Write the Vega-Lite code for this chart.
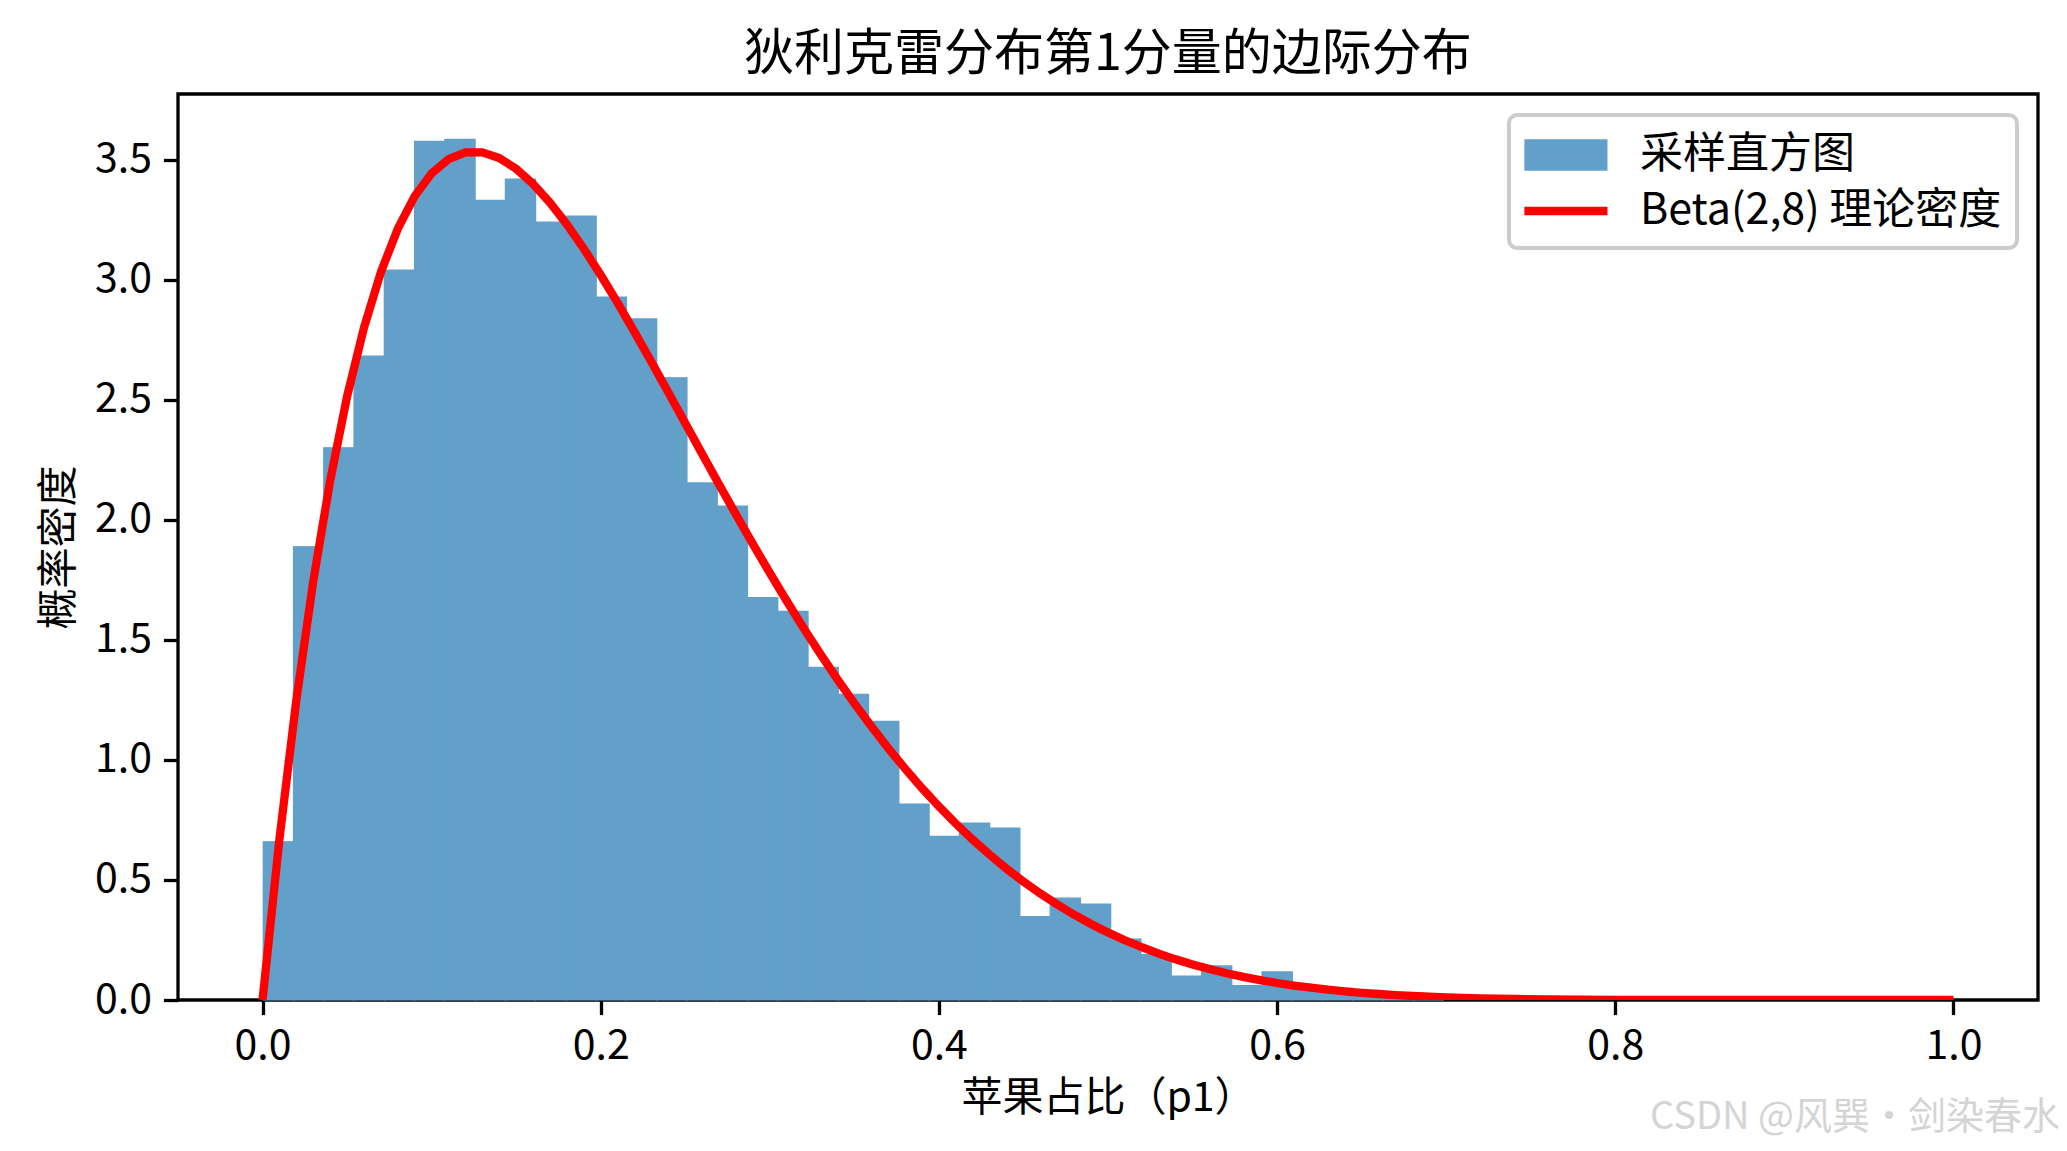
{
  "$schema": "https://vega.github.io/schema/vega-lite/v6.json",
  "width": 1860,
  "height": 906,
  "autosize": {"type": "none"},
  "padding": {"left": 178, "top": 94, "right": 29, "bottom": 151},
  "background": "white",
  "title": {
    "text": "狄利克雷分布第1分量的边际分布",
    "fontSize": 50,
    "fontWeight": "normal",
    "color": "black",
    "anchor": "middle",
    "offset": 14
  },
  "config": {
    "font": "Noto Sans CJK SC",
    "view": {"stroke": "black", "strokeWidth": 3.3},
    "axis": {
      "domain": false,
      "grid": false,
      "ticks": true,
      "tickColor": "black",
      "tickSize": 14.6,
      "tickWidth": 3.3,
      "labelFontSize": 41,
      "labelColor": "black",
      "labelPadding": 12,
      "titleFontSize": 41,
      "titleFontWeight": "normal",
      "titleColor": "black"
    }
  },
  "datasets": {
    "hist": [
      {"start": 0.0004, "end": 0.0183, "density": 0.659},
      {"start": 0.0183, "end": 0.0362, "density": 1.888},
      {"start": 0.0362, "end": 0.0541, "density": 2.300},
      {"start": 0.0541, "end": 0.0720, "density": 2.682},
      {"start": 0.0720, "end": 0.0899, "density": 3.040},
      {"start": 0.0899, "end": 0.1078, "density": 3.577},
      {"start": 0.1078, "end": 0.1257, "density": 3.585},
      {"start": 0.1257, "end": 0.1436, "density": 3.331},
      {"start": 0.1436, "end": 0.1615, "density": 3.419},
      {"start": 0.1615, "end": 0.1794, "density": 3.240},
      {"start": 0.1794, "end": 0.1973, "density": 3.265},
      {"start": 0.1973, "end": 0.2152, "density": 2.928},
      {"start": 0.2152, "end": 0.2331, "density": 2.837},
      {"start": 0.2331, "end": 0.2510, "density": 2.592},
      {"start": 0.2510, "end": 0.2689, "density": 2.154},
      {"start": 0.2689, "end": 0.2868, "density": 2.057},
      {"start": 0.2868, "end": 0.3047, "density": 1.676},
      {"start": 0.3047, "end": 0.3226, "density": 1.619},
      {"start": 0.3226, "end": 0.3405, "density": 1.386},
      {"start": 0.3405, "end": 0.3584, "density": 1.273},
      {"start": 0.3584, "end": 0.3763, "density": 1.161},
      {"start": 0.3763, "end": 0.3942, "density": 0.816},
      {"start": 0.3942, "end": 0.4121, "density": 0.682},
      {"start": 0.4121, "end": 0.4300, "density": 0.737},
      {"start": 0.4300, "end": 0.4479, "density": 0.716},
      {"start": 0.4479, "end": 0.4658, "density": 0.347},
      {"start": 0.4658, "end": 0.4837, "density": 0.424},
      {"start": 0.4837, "end": 0.5016, "density": 0.399},
      {"start": 0.5016, "end": 0.5195, "density": 0.254},
      {"start": 0.5195, "end": 0.5374, "density": 0.189},
      {"start": 0.5374, "end": 0.5553, "density": 0.100},
      {"start": 0.5553, "end": 0.5732, "density": 0.142},
      {"start": 0.5732, "end": 0.5911, "density": 0.060},
      {"start": 0.5911, "end": 0.6090, "density": 0.117},
      {"start": 0.6090, "end": 0.6269, "density": 0.045},
      {"start": 0.6269, "end": 0.6448, "density": 0.049},
      {"start": 0.6448, "end": 0.6627, "density": 0.022},
      {"start": 0.6627, "end": 0.6806, "density": 0.011},
      {"start": 0.6806, "end": 0.6985, "density": 0.011}
    ],
    "pdf": [
      {"x": 0.00, "y": 0.0}, {"x": 0.01, "y": 0.67109}, {"x": 0.02, "y": 1.25010},
      {"x": 0.03, "y": 1.74524}, {"x": 0.04, "y": 2.16417}, {"x": 0.05, "y": 2.51401},
      {"x": 0.06, "y": 2.80142}, {"x": 0.07, "y": 3.03257}, {"x": 0.08, "y": 3.21320},
      {"x": 0.09, "y": 3.34861}, {"x": 0.10, "y": 3.44374}, {"x": 0.11, "y": 3.50312},
      {"x": 0.12, "y": 3.53095}, {"x": 0.13, "y": 3.53110}, {"x": 0.14, "y": 3.50714},
      {"x": 0.15, "y": 3.46223}, {"x": 0.16, "y": 3.39944}, {"x": 0.17, "y": 3.32146},
      {"x": 0.18, "y": 3.23073}, {"x": 0.19, "y": 3.12955}, {"x": 0.20, "y": 3.01990},
      {"x": 0.21, "y": 2.90363}, {"x": 0.22, "y": 2.78239}, {"x": 0.23, "y": 2.65763},
      {"x": 0.24, "y": 2.53069}, {"x": 0.25, "y": 2.40271}, {"x": 0.26, "y": 2.27472},
      {"x": 0.27, "y": 2.14761}, {"x": 0.28, "y": 2.02217}, {"x": 0.29, "y": 1.89906},
      {"x": 0.30, "y": 1.77885}, {"x": 0.31, "y": 1.66204}, {"x": 0.32, "y": 1.54898},
      {"x": 0.33, "y": 1.44002}, {"x": 0.34, "y": 1.33543}, {"x": 0.35, "y": 1.23535},
      {"x": 0.36, "y": 1.13996}, {"x": 0.37, "y": 1.04935}, {"x": 0.38, "y": 0.96351},
      {"x": 0.39, "y": 0.88247}, {"x": 0.40, "y": 0.80622}, {"x": 0.41, "y": 0.73466},
      {"x": 0.42, "y": 0.66770}, {"x": 0.43, "y": 0.60524}, {"x": 0.44, "y": 0.54715},
      {"x": 0.45, "y": 0.49327}, {"x": 0.46, "y": 0.44345}, {"x": 0.47, "y": 0.39752},
      {"x": 0.48, "y": 0.35531}, {"x": 0.49, "y": 0.31661}, {"x": 0.50, "y": 0.28125},
      {"x": 0.51, "y": 0.24904}, {"x": 0.52, "y": 0.21980}, {"x": 0.53, "y": 0.19333},
      {"x": 0.54, "y": 0.16945}, {"x": 0.55, "y": 0.14797}, {"x": 0.56, "y": 0.12873},
      {"x": 0.57, "y": 0.11155}, {"x": 0.58, "y": 0.09627}, {"x": 0.59, "y": 0.08273},
      {"x": 0.60, "y": 0.07078}, {"x": 0.61, "y": 0.06027}, {"x": 0.62, "y": 0.05108},
      {"x": 0.63, "y": 0.04306}, {"x": 0.64, "y": 0.03611}, {"x": 0.65, "y": 0.03011},
      {"x": 0.66, "y": 0.02496}, {"x": 0.67, "y": 0.02056}, {"x": 0.68, "y": 0.01682},
      {"x": 0.69, "y": 0.01367}, {"x": 0.70, "y": 0.01102}, {"x": 0.72, "y": 0.00699},
      {"x": 0.74, "y": 0.00428}, {"x": 0.76, "y": 0.00251}, {"x": 0.78, "y": 0.00140},
      {"x": 0.80, "y": 0.00074}, {"x": 0.85, "y": 0.000105}, {"x": 0.90, "y": 0.0000065},
      {"x": 0.95, "y": 0.0}, {"x": 1.00, "y": 0.0}
    ],
    "mark": [
      {"t": "CSDN @风巽·剑染春水"}
    ]
  },
  "encoding": {
    "x": {
      "type": "quantitative",
      "scale": {"domain": [-0.05, 1.05], "nice": false, "zero": false},
      "axis": {"values": [0, 0.2, 0.4, 0.6, 0.8, 1.0], "format": ".1f", "title": "苹果占比（p1）", "titlePadding": 12}
    },
    "y": {
      "type": "quantitative",
      "scale": {"domain": [0, 3.774], "nice": false},
      "axis": {"values": [0, 0.5, 1, 1.5, 2, 2.5, 3, 3.5], "format": ".1f", "title": "概率密度", "titlePadding": 14}
    }
  },
  "layer": [
    {
      "data": {"name": "hist"},
      "mark": {"type": "rect", "fill": "#62a0ca", "stroke": "#62a0ca", "strokeWidth": 1.2},
      "encoding": {
        "x": {"field": "start", "type": "quantitative"},
        "x2": {"field": "end"},
        "y": {"field": "density", "type": "quantitative"},
        "y2": {"datum": 0}
      }
    },
    {
      "data": {"name": "hist"},
      "mark": {"type": "rect"},
      "encoding": {
        "x": {"field": "start", "type": "quantitative"},
        "x2": {"field": "end"},
        "y": {"field": "density", "type": "quantitative"},
        "y2": {"datum": 0},
        "color": {
          "datum": "采样直方图",
          "type": "nominal",
          "scale": {"domain": ["采样直方图", "Beta(2,8) 理论密度"], "range": ["#62a0ca", "#ff0000"]},
          "legend": {
            "title": null,
            "orient": "top-right",
            "offset": 21,
            "padding": 15,
            "fillColor": "rgba(255,255,255,0.8)",
            "strokeColor": "#cccccc",
            "cornerRadius": 8,
            "labelFontSize": 43,
            "labelColor": "black",
            "labelLimit": 0,
            "labelOffset": 66,
            "rowPadding": 2,
            "symbolSize": 900,
            "symbolStrokeWidth": 8.3,
            "symbolOpacity": 1,
            "encode": {
              "legend": {
                "update": {"strokeWidth": {"value": 4}}
              },
              "symbols": {
                "update": {
                  "shape": {"signal": "datum.value === '采样直方图' ? 'M-1,-0.56L2.65,-0.56L2.65,0.56L-1,0.56Z' : 'M-1,0L2.65,0'"},
                  "fill": {"signal": "datum.value === '采样直方图' ? '#62a0ca' : 'transparent'"},
                  "stroke": {"signal": "datum.value === '采样直方图' ? 'transparent' : '#ff0000'"},
                  "strokeWidth": {"value": 8.3},
                  "strokeCap": {"value": "square"},
                  "size": {"value": 1681},
                  "opacity": {"value": 1}
                }
              }
            }
          }
        }
      }
    },
    {
      "data": {"name": "pdf"},
      "mark": {"type": "line", "strokeWidth": 8.3, "clip": true},
      "encoding": {
        "x": {"field": "x", "type": "quantitative"},
        "y": {"field": "y", "type": "quantitative"},
        "color": {"datum": "Beta(2,8) 理论密度", "type": "nominal"}
      }
    },
    {
      "data": {"name": "mark"},
      "mark": {"type": "text", "align": "right", "baseline": "middle", "fontSize": 38, "color": "#d4d4d4"},
      "encoding": {
        "x": {"datum": 1.063},
        "y": {"datum": -0.49},
        "text": {"field": "t"}
      }
    }
  ]
}
